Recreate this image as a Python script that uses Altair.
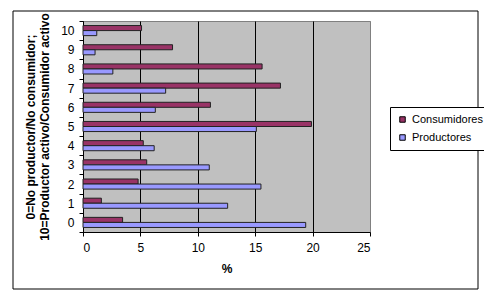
import altair as alt
import pandas as pd

categorias = [0, 1, 2, 3, 4, 5, 6, 7, 8, 9, 10]
consumidores = [3.45, 1.6, 4.8, 5.55, 5.25, 19.9, 11.1, 17.2, 15.6, 7.8, 5.1]
productores = [19.4, 12.6, 15.5, 11.0, 6.2, 15.1, 6.3, 7.2, 2.6, 1.05, 1.2]
series = ["Consumidores", "Productores"]
x_ticks = [0, 5, 10, 15, 20, 25]

rows = []
for c, v in zip(categorias, consumidores):
    rows.append({"cat": c, "serie": series[0], "valor": v})
for c, v in zip(categorias, productores):
    rows.append({"cat": c, "serie": series[1], "valor": v})
df = pd.DataFrame(rows)

FONT = "Liberation Sans"

bars = alt.Chart(df).mark_bar(stroke="#222222", strokeWidth=1).encode(
    x=alt.X("valor:Q",
            scale=alt.Scale(domain=[0, 25], nice=False),
            axis=alt.Axis(values=x_ticks, title="%", grid=True,
                          gridColor={"condition": {"test": "datum.value == 25", "value": "#808080"}, "value": "#000000"},
                          gridWidth=1, tickSize=4, tickColor="#000000",
                          domainColor="#000000", labelFontSize=12, labelColor="#000000",
                          labelPadding=6, titleFontSize=12, titleFontWeight="bold",
                          titlePadding=10, labelFont=FONT, titleFont=FONT)),
    y=alt.Y("cat:O", sort="descending",
            scale=alt.Scale(paddingInner=0, paddingOuter=0),
            axis=alt.Axis(title=["0=No productor/No consumidor;", "10=Productor activo/Consumidor activo"],
                          tickBand="extent", tickSize=4, tickColor="#000000",
                          domainColor="#000000", labelFontSize=12, labelColor="#000000",
                          labelPadding=5, labelAngle=0, titleFontSize=12, titleFontWeight="bold",
                          titlePadding=9, labelFont=FONT, titleFont=FONT, grid=False)),
    yOffset=alt.YOffset("serie:N", sort=series, scale=alt.Scale(paddingOuter=0.9, paddingInner=0)),
    color=alt.Color("serie:N", sort=series,
                    scale=alt.Scale(domain=series, range=["#993366", "#9999FF"]),
                    legend=alt.Legend(title=None, orient="none", legendX=307, legendY=86,
                                      strokeColor="#000000", fillColor="#FFFFFF", padding=7,
                                      symbolType="square", symbolSize=30, symbolStrokeColor="#000000",
                                      symbolStrokeWidth=1, labelFontSize=11, labelFont=FONT,
                                      labelColor="#000000", rowPadding=6, labelLimit=200)),
)

frame = alt.Chart(pd.DataFrame({"a": [1]})).mark_rect(
    fill="#FFFFFF", fillOpacity=0, stroke="#000000", strokeWidth=1, clip=False
).encode(
    x=alt.value(-70), x2=alt.value(395), y=alt.value(-10), y2=alt.value(268)
)

chart = alt.layer(frame, bars).properties(
    width=287, height=211,
    autosize=alt.AutoSizeParams(type="none"),
    padding={"left": 75, "top": 13, "right": 114, "bottom": 60},
    background="#FFFFFF",
).configure_view(
    fill="#C0C0C0", stroke="#808080", strokeWidth=1
)

chart.save("out.html", embed_options={"renderer": "svg", "actions": False})
